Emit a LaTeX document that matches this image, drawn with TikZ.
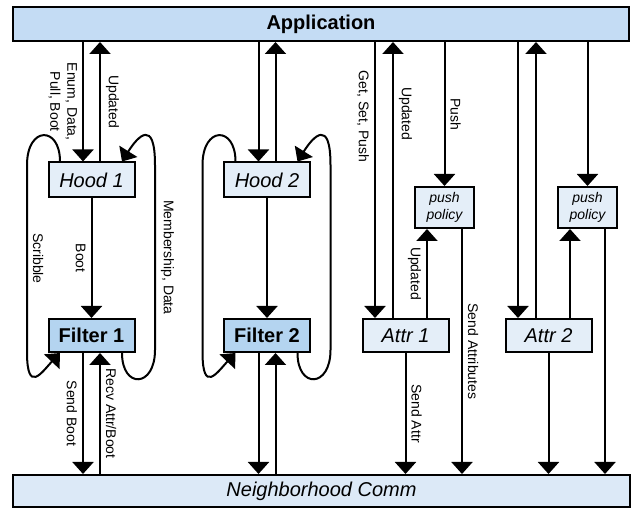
\documentclass[tikz,border=0pt]{standalone}
\usepackage{fontspec}
\setmainfont{Liberation Sans}
\usetikzlibrary{arrows.meta}
\definecolor{appblue}{RGB}{196,220,244}
\definecolor{hoodblue}{RGB}{228,238,248}
\definecolor{filterblue}{RGB}{180,212,240}
\definecolor{commblue}{RGB}{220,233,247}
\tikzset{
  bar/.style={draw=black,line width=2pt,inner sep=0pt,minimum height=34pt},
  hoodbox/.style={draw=black,line width=2pt,fill=hoodblue,inner sep=0pt,
    minimum width=86pt,minimum height=35pt,font=\fontsize{20}{24}\selectfont\itshape},
  filterbox/.style={hoodbox,fill=filterblue,minimum height=33pt,
    font=\fontsize{20}{24}\selectfont\bfseries},
  attrbox/.style={hoodbox,minimum height=33pt},
  policybox/.style={hoodbox,minimum width=59pt,minimum height=41pt,align=center,
    font=\fontsize{14}{17}\selectfont\itshape},
  lbl/.style={rotate=-90,inner sep=5pt,align=center,font=\fontsize{14}{17}\selectfont},
  flow/.style={line width=2pt,-{Triangle[width=21pt,length=12pt]}},
}
\begin{document}
\begin{tikzpicture}[x=1pt,y=-1pt]
  \useasboundingbox (0,0) rectangle (635,510);
  \node[bar,fill=appblue,minimum width=616pt,font=\fontsize{20}{24}\selectfont\bfseries] (app) at (321,24) {Application};
  \node[bar,fill=commblue,minimum width=617pt,minimum height=32pt,font=\fontsize{20}{24}\selectfont\itshape] (comm) at (321.5,491) {Neighborhood Comm};

  \begin{scope}
    \node[hoodbox] (hood1) at (91.5,180) {Hood 1};
    \node[filterbox] (filter1) at (91.5,335.5) {Filter 1};
    \draw[flow] ([xshift=-8.5pt]hood1.north |- app.south) -- ([xshift=-8.5pt]hood1.north)
      node[lbl,midway,anchor=north] {Enum, Data,\\Pull, Boot};
    \draw[flow] ([xshift=8.5pt]hood1.north) -- ([xshift=8.5pt]hood1.north |- app.south)
      node[lbl,midway,anchor=south] {Updated};
    \draw[flow] (hood1) -- node[lbl,anchor=north] {Boot} (filter1);
    \draw[flow] ([xshift=-31.5pt]hood1.north) .. controls +(0,-36) and (27,126) .. (27,165)
      -- node[lbl,anchor=south] {Scribble} (27,352)
      .. controls (27,395) and (42,372) .. ([xshift=-31.5pt]filter1.south);
    \draw[flow] ([xshift=30.5pt]filter1.south) .. controls +(0,36) and (155,388) .. (155,350)
      -- node[lbl,anchor=south] {Membership, Data} (155,165)
      .. controls (155,118) and (138,136) .. ([xshift=30.5pt]hood1.north);
    \draw[flow] ([xshift=-8.5pt]filter1.south) -- ([xshift=-8.5pt]filter1.south |- comm.north)
      node[lbl,midway,anchor=north] {Send Boot};
    \draw[flow] ([xshift=8.5pt]filter1.south |- comm.north) -- ([xshift=8.5pt]filter1.south)
      node[lbl,midway,anchor=south] {Recv Attr/Boot};
  \end{scope}

  \begin{scope}[xshift=175.5pt]
    \node[hoodbox] (hood2) at (91.5,180) {Hood 2};
    \node[filterbox] (filter2) at (91.5,335.5) {Filter 2};
    \draw[flow] ([xshift=-8.5pt]hood2.north |- app.south) -- ([xshift=-8.5pt]hood2.north);
    \draw[flow] ([xshift=8.5pt]hood2.north) -- ([xshift=8.5pt]hood2.north |- app.south);
    \draw[flow] (hood2) -- (filter2);
    \draw[flow] ([xshift=-31.5pt]hood2.north) .. controls +(0,-36) and (27,126) .. (27,165)
      -- (27,352)
      .. controls (27,395) and (42,372) .. ([xshift=-31.5pt]filter2.south);
    \draw[flow] ([xshift=30.5pt]filter2.south) .. controls +(0,36) and (155,388) .. (155,350)
      -- (155,165)
      .. controls (155,118) and (138,136) .. ([xshift=30.5pt]hood2.north);
    \draw[flow] ([xshift=-8.5pt]filter2.south) -- ([xshift=-8.5pt]filter2.south |- comm.north);
    \draw[flow] ([xshift=8.5pt]filter2.south |- comm.north) -- ([xshift=8.5pt]filter2.south);
  \end{scope}

  \begin{scope}
    \node[attrbox] (attr1) at (405.5,335.5) {Attr 1};
    \node[policybox] (policy1) at (444.5,207.5) {push\\policy};
    \draw[flow] ([xshift=-30.5pt]attr1.north |- app.south) -- ([xshift=-30.5pt]attr1.north)
      node[lbl,pos=0.27,anchor=north] {Get, Set, Push};
    \draw[flow] ([xshift=-12.5pt]attr1.north) -- ([xshift=-12.5pt]attr1.north |- app.south)
      node[lbl,pos=0.74,anchor=south] {Updated};
    \draw[flow] (policy1 |- app.south) -- (policy1)
      node[lbl,midway,anchor=south] {Push};
    \draw[flow] ([xshift=21.5pt]attr1.north) -- ([xshift=21.5pt]attr1.north |- policy1.south)
      node[lbl,midway,anchor=north] {Updated};
    \draw[flow] ([xshift=17.5pt]policy1.south) -- ([xshift=17.5pt]policy1.south |- comm.north)
      node[lbl,midway,anchor=south] {Send Attributes};
    \draw[flow] (attr1) -- (attr1 |- comm.north)
      node[lbl,midway,anchor=south] {Send Attr};
  \end{scope}

  \begin{scope}[xshift=143pt]
    \node[attrbox] (attr2) at (405.5,335.5) {Attr 2};
    \node[policybox] (policy2) at (444.5,207.5) {push\\policy};
    \draw[flow] ([xshift=-30.5pt]attr2.north |- app.south) -- ([xshift=-30.5pt]attr2.north);
    \draw[flow] ([xshift=-12.5pt]attr2.north) -- ([xshift=-12.5pt]attr2.north |- app.south);
    \draw[flow] (policy2 |- app.south) -- (policy2);
    \draw[flow] ([xshift=21.5pt]attr2.north) -- ([xshift=21.5pt]attr2.north |- policy2.south);
    \draw[flow] ([xshift=17.5pt]policy2.south) -- ([xshift=17.5pt]policy2.south |- comm.north);
    \draw[flow] (attr2) -- (attr2 |- comm.north);
  \end{scope}
\end{tikzpicture}
\end{document}
